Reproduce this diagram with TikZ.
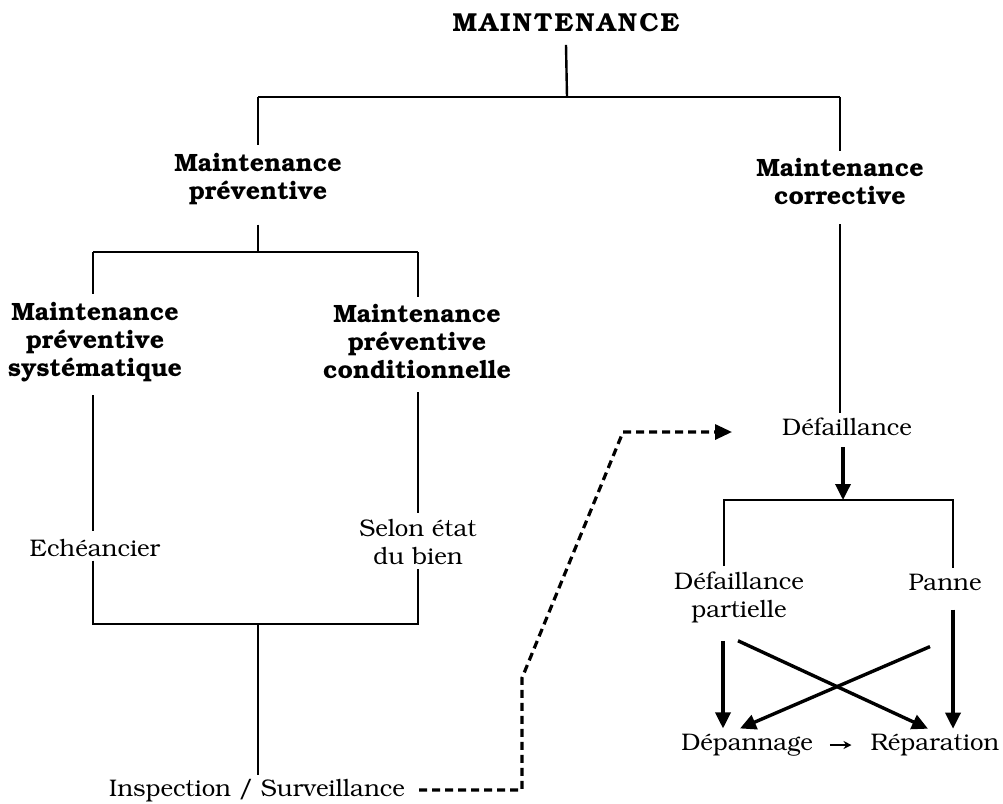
\documentclass[tikz,border=0pt]{standalone}
\usepackage[T1]{fontenc}
\usepackage{bookman}
\usetikzlibrary{arrows.meta}
\newcommand{\ks}{\kern2.2pt}
\begin{document}
\begin{tikzpicture}[x=1pt,y=-1pt,
  line/.style={line width=2.4pt},
  bigarrow/.style={line width=3.4pt,-{Triangle[length=16pt,width=15pt]}},
  thinarrow/.style={line width=1.4pt,-{Stealth[length=8pt,width=8pt]}},
  dasharrow/.style={line width=3.2pt,dash pattern=on 8pt off 5pt,-{Triangle[length=17pt,width=15pt]}},
  hd/.style={font=\fontsize{25}{28}\selectfont\bfseries,align=center,inner sep=0pt},
  tx/.style={font=\fontsize{24}{28}\selectfont,align=center,inner sep=0pt},
]
\useasboundingbox (0,0) rectangle (1003,803);

% nodes
\node[hd,font=\fontsize{26}{28}\selectfont\bfseries] (title) at (566,23) {M\ks A\ks I\ks N\ks T\ks E\ks N\ks A\ks N\ks C\ks E};
\node[hd] (prev) at (258,179) {Maintenance\\pr\'eventive};
\node[hd] (corr) at (840,182) {Maintenance\\corrective};
\node[hd] (sys) at (95,342) {Maintenance\\pr\'eventive\\syst\'ematique};
\node[hd] (cond) at (417,342) {Maintenance\\pr\'eventive\\conditionnelle};
\node[tx] (ech) at (95,548) {Ech\'eancier};
\node[tx] (selon) at (418,542) {Selon \'etat\\du bien};
\node[tx] (insp) at (257,791) {Inspection / Surveillance};
\node[tx] (def) at (847,427) {D\'efaillance};
\node[tx] (defp) at (739,597) {D\'efaillance\\partielle};
\node[tx] (panne) at (945,582) {Panne};
\node[tx] (dep) at (747,745) {D\'epannage};
\node[tx] (rep) at (935,745) {R\'eparation};

% junctions
\coordinate (j1) at (567,97);
\coordinate (jP) at (258,97);
\coordinate (jC) at (840,97);
\coordinate (j2) at (258,252);
\coordinate (j2l) at (93,252);
\coordinate (j2r) at (418,252);
\coordinate (j3) at (258,624);
\coordinate (j3l) at (93,624);
\coordinate (j3r) at (418,624);
\coordinate (j4) at (843,500);
\coordinate (j4l) at (724,500);
\coordinate (j4r) at (953,500);
\coordinate (d1) at (522,790);
\coordinate (d2) at (522,678);
\coordinate (d3) at (623,432);
\coordinate (d4) at (732,432);

% top level
\draw[line] ([yshift=-12pt]title.south) -- (j1);
\draw[line] (jP) -- (jC);
\draw[line] (jP) -- ([yshift=8pt]prev.north);
\draw[line] (jC) -- ([yshift=8pt]corr.north -| jC);

% preventive branch
\draw[line] ([yshift=-20pt]prev.south) -- (j2);
\draw[line] (j2l) -- (j2r);
\draw[line] (j2l) -- ([yshift=8pt]sys.north -| j2l);
\draw[line] (j2r) -- ([yshift=8pt]cond.north -| j2r);
\draw[line] ([yshift=-13pt]sys.south -| j2l) -- ([yshift=8pt]ech.north -| j2l);
\draw[line] ([yshift=-13pt]cond.south -| j2r) -- ([yshift=6pt]selon.north -| j2r);
\draw[line] ([yshift=-4pt]ech.south -| j3l) -- (j3l) -- (j3r) -- ([yshift=-4pt]selon.south -| j3r);
\draw[line] (j3) -- ([yshift=5pt]insp.north -| j3);

% corrective branch
\draw[line] ([yshift=-19pt]corr.south -| jC) -- ([yshift=5pt]def.north -| jC);
\draw[bigarrow] ([yshift=-11pt]def.south -| j4) -- (j4);
\draw[line] ([yshift=5pt]defp.north -| j4l) -- (j4l) -- (j4r) -- ([yshift=5pt]panne.north -| j4r);

% bottom arrows
\draw[bigarrow] ([yshift=-18pt]defp.south -| 723,0) -- ([yshift=5pt]dep.north -| 723,0);
\draw[bigarrow] ([yshift=-18pt]defp.south -| 738,0) -- ([yshift=5pt]rep.north -| 928,0);
\draw[bigarrow] ([yshift=-56pt]panne.south -| 930,0) -- ([yshift=5pt]dep.north -| 740,0);
\draw[bigarrow] ([yshift=-19pt]panne.south -| j4r) -- ([yshift=5pt]rep.north -| j4r);
\draw[thinarrow,shorten <=17pt,shorten >=19pt] (dep.east) -- (rep.west);

% dashed link
\draw[dasharrow] ([xshift=14pt]insp.east |- d1) -- (d1) -- (d2) -- (d3) -- (d4);
\end{tikzpicture}
\end{document}
